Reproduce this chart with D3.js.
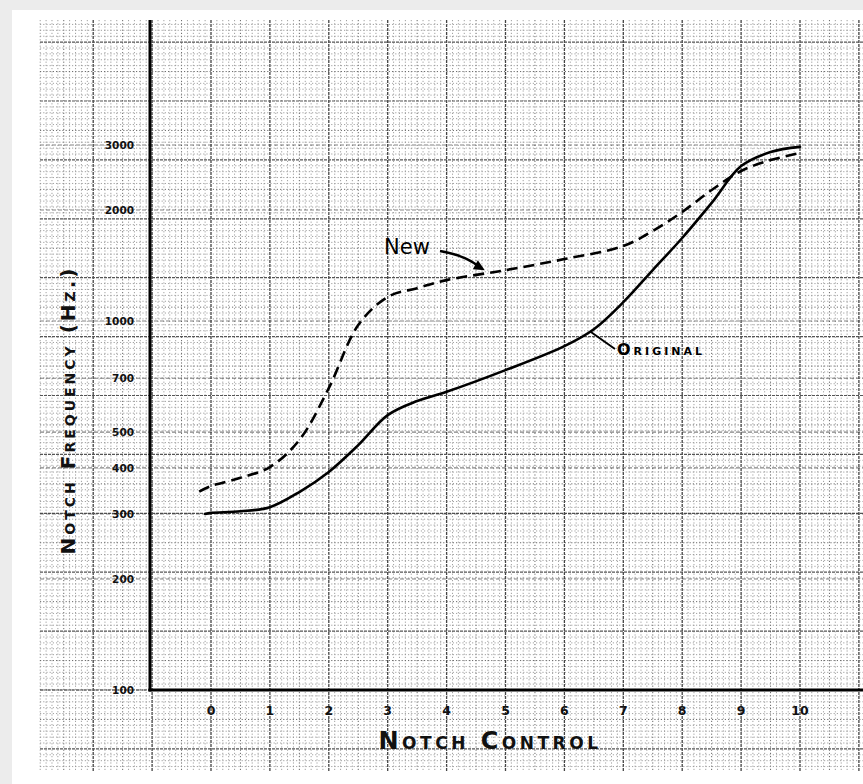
<!DOCTYPE html>
<html><head><meta charset="utf-8">
<script src="https://cdn.jsdelivr.net/npm/d3@7"></script>
<style>
html,body{margin:0;padding:0;background:#ececec;}
svg{display:block;}
</style></head>
<body>
<svg id="chart" width="863" height="784"></svg>
<script>
// ---- data ----
const controlTicks = [0,1,2,3,4,5,6,7,8,9,10];
const controlTickLabels = ["0","1","2","3","4","5","6","7","8","9","10"];
const freqTicks = [100,200,300,400,500,700,1000,2000,3000];
const freqTickLabels = ["100","200","300","400","500","700","1000","2000","3000"];

const originalX = [-0.1,0,0.5,1,1.5,2,2.5,3,3.5,4,5,6,6.5,7,7.5,8,8.5,9,9.5,10];
const originalY = [300,302,305,313,344,390,461,556,607,643,736,855,950,1125,1375,1679,2090,2630,2871,2965];

const newX = [-0.2,0,0.5,1,1.5,2,2.5,3,3.5,4,5,6,7,7.5,8,8.5,9,9.5,10];
const newY = [345,357,376,402,476,658,975,1162,1228,1291,1374,1472,1597,1755,1975,2265,2551,2730,2853];

const seriesNames = ["New","Original"];

// ---- layout ----
const svg = d3.select("#chart");
const W = 863, H = 784;
const plot = {left:150, right:863, top:20, bottom:690};

const x = d3.scaleLinear().domain([0,10]).range([211,800]);
const y = d3.scaleLog().domain([100,3000]).range([690,145]);

// paper background
svg.append("rect").attr("x",12).attr("y",10).attr("width",W-12).attr("height",H-10).attr("fill","#fff");

// graph paper grid (linear paper, 10 divisions per control unit)
const unit = x(1)-x(0);
const minor = unit/10;
const gx0 = 40, gx1 = 863, gy0 = 20, gy1 = 772;
const grid = svg.append("g");
const vStart = Math.ceil((gx0 - x(0))/minor), vEnd = Math.floor((gx1 - x(0))/minor);
for (let i=vStart;i<=vEnd;i++){
  const px = x(0)+i*minor;
  const major = i%10===0, half = i%5===0;
  grid.append("line").attr("x1",px).attr("x2",px).attr("y1",gy0).attr("y2",gy1)
    .attr("stroke", major?"#444":(half?"#6a6a6a":"#8a8a8a"))
    .attr("stroke-width", major?1.3:(half?1:0.8))
    .attr("stroke-dasharray", major?"3,1":"1.2,2");
}
const hEnd = Math.floor((y(100)-gy0)/minor);
for (let i=-Math.floor((gy1-y(100))/minor);i<=hEnd;i++){
  const py = y(100)-i*minor;
  const major = i%10===0, half = i%5===0;
  grid.append("line").attr("x1",gx0).attr("x2",gx1).attr("y1",py).attr("y2",py)
    .attr("stroke", major?"#555":(half?"#6a6a6a":"#8a8a8a"))
    .attr("stroke-width", major?1.2:(half?1:0.8))
    .attr("stroke-dasharray", major?"3,1":"1.2,2");
}
// tick reference lines at labelled frequencies
freqTicks.forEach(v=>{
  grid.append("line").attr("x1",40).attr("x2",gx1).attr("y1",y(v)).attr("y2",y(v))
    .attr("stroke","#333").attr("stroke-width",1.1).attr("stroke-dasharray","4,2").attr("opacity",0.6);
});

// axes
svg.append("line").attr("x1",plot.left).attr("x2",plot.left).attr("y1",plot.top).attr("y2",plot.bottom+1.5)
  .attr("stroke","#000").attr("stroke-width",3);
svg.append("line").attr("x1",plot.left-1.5).attr("x2",plot.right).attr("y1",plot.bottom).attr("y2",plot.bottom)
  .attr("stroke","#000").attr("stroke-width",3);

// y tick labels
svg.append("g").selectAll("text").data(freqTicks).join("text")
  .attr("x",134).attr("y",d=>y(d)+4)
  .attr("text-anchor","end")
  .attr("font-family","DejaVu Sans, sans-serif").attr("font-weight","bold").attr("font-size",10.5)
  .attr("fill","#111")
  .text((d,i)=>freqTickLabels[i]);

// x tick labels
svg.append("g").selectAll("text").data(controlTicks).join("text")
  .attr("x",d=>x(d)).attr("y",715)
  .attr("text-anchor","middle")
  .attr("font-family","DejaVu Sans, sans-serif").attr("font-weight","bold").attr("font-size",12.5)
  .attr("fill","#111")
  .text((d,i)=>controlTickLabels[i]);

// axis titles
svg.append("text").attr("x",490).attr("y",749).attr("text-anchor","middle")
  .attr("font-family","DejaVu Sans, sans-serif").attr("font-weight","bold").attr("font-size",24)
  .attr("font-variant","small-caps").attr("letter-spacing",3.5).attr("fill","#111")
  .text("Notch Control");
svg.append("text").attr("transform","translate(75,410) rotate(-90)").attr("text-anchor","middle")
  .attr("font-family","DejaVu Sans, sans-serif").attr("font-weight","bold").attr("font-size",20)
  .attr("font-variant","small-caps").attr("letter-spacing",3).attr("fill","#111")
  .text("Notch Frequency (Hz.)");

// lines
const lineGen = d3.line().x(d=>x(d[0])).y(d=>y(d[1])).curve(d3.curveCatmullRom.alpha(0.5));
const origData = originalX.map((v,i)=>[v,originalY[i]]);
const newData = newX.map((v,i)=>[v,newY[i]]);
svg.append("path").datum(origData).attr("d",lineGen).attr("fill","none")
  .attr("stroke","#000").attr("stroke-width",2.6).attr("stroke-linecap","round");
svg.append("path").datum(newData).attr("d",lineGen).attr("fill","none")
  .attr("stroke","#000").attr("stroke-width",2.6).attr("stroke-dasharray","11,6");

// annotations
svg.append("text").attr("x",384).attr("y",254)
  .attr("font-family","DejaVu Sans, sans-serif").attr("font-size",21).attr("fill","#000")
  .text(seriesNames[0]);
const ax1 = x(4.7), ay1 = y(1355);
svg.append("path").attr("d",`M440,251 Q468,256 ${ax1-7},${ay1-4}`).attr("fill","none").attr("stroke","#000").attr("stroke-width",2.4);
svg.append("path").attr("d",`M${ax1-3},${ay1-2} l-12,-1 l5,-9 z`).attr("fill","#000");

svg.append("text").attr("x",617).attr("y",355)
  .attr("font-family","DejaVu Sans, sans-serif").attr("font-weight","bold").attr("font-size",16)
  .attr("font-variant","small-caps").attr("letter-spacing",3).attr("fill","#000")
  .text(seriesNames[1]);
const ox = x(6.45), oy = y(940);
svg.append("path").attr("d",`M${ox},${oy+1} L615,349`).attr("fill","none").attr("stroke","#000").attr("stroke-width",2);
</script>
</body></html>
